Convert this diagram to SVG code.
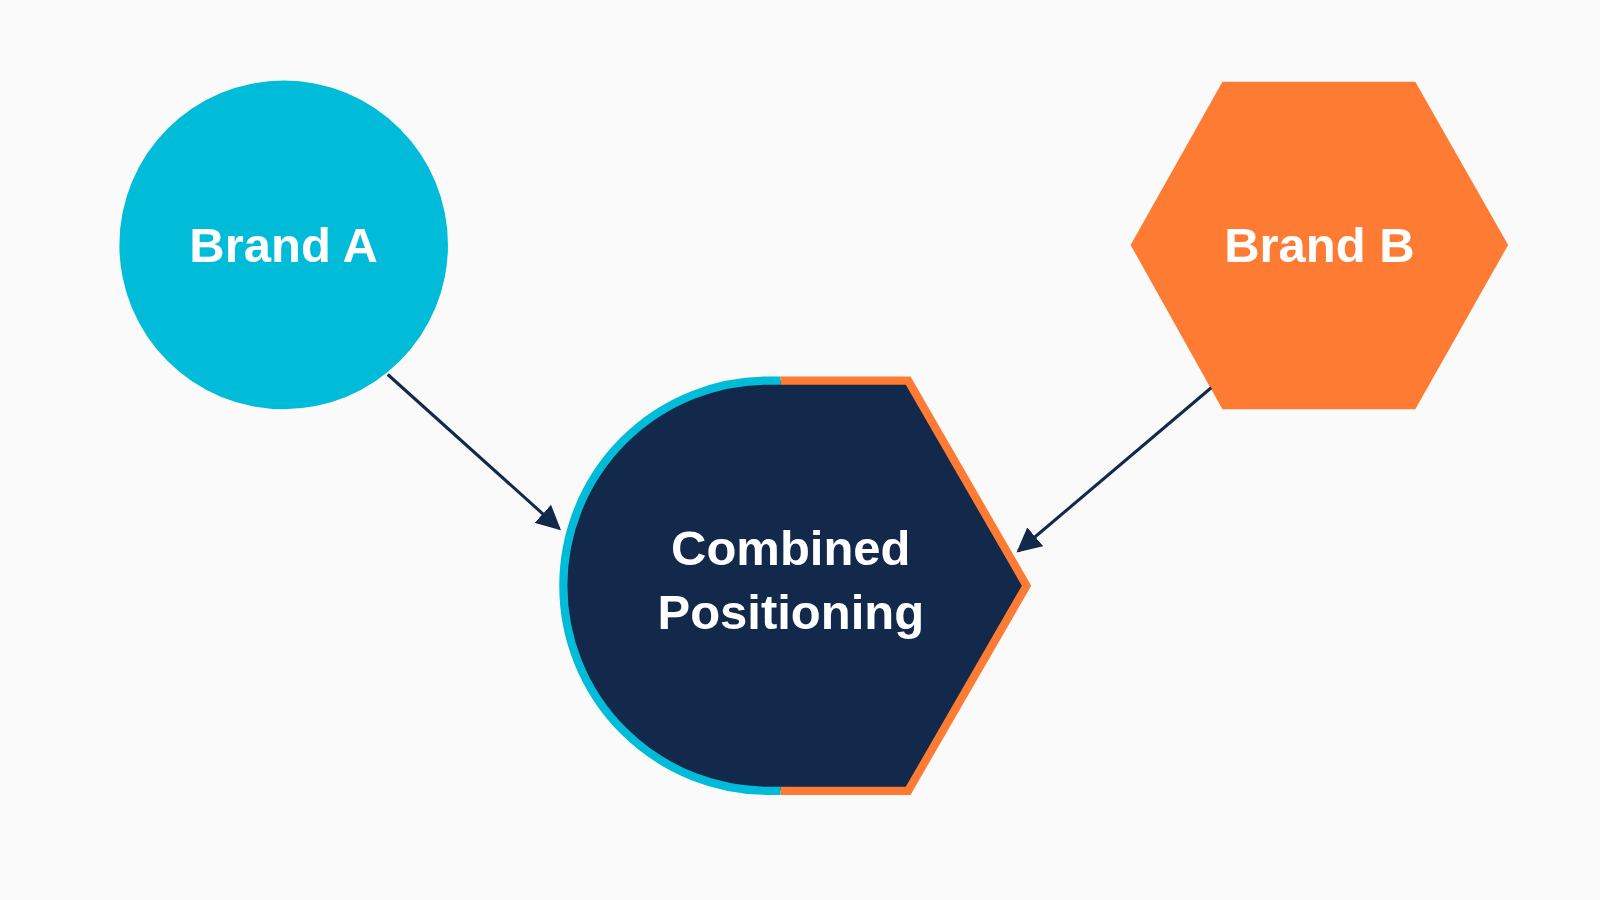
<svg xmlns="http://www.w3.org/2000/svg" width="1600" height="900" viewBox="0 0 1600 900">
<style>
.t{font-family:"Liberation Sans",Arial,sans-serif;font-weight:bold;font-size:48px;fill:#fff;text-anchor:middle;dominant-baseline:central}
</style>
<defs>
<marker id="ah2" viewBox="0 0 10 10" refX="9" refY="5" markerWidth="24" markerHeight="24" markerUnits="userSpaceOnUse" orient="auto"><path d="M0,0L10,5L0,10z" fill="#13294b"/></marker></defs>
<rect width="1600" height="900" fill="#fafafa"/>
<g transform="scale(1.0204)">
<g id="brandA"><circle cx="278" cy="240" r="161" fill="#00bcd8"/><text class="t" x="278" y="240">Brand A</text></g>
<g id="brandB"><polygon points="1198,80 1387,80 1478,240 1387,401 1198,401 1108,240" fill="#fd7b32"/><text class="t" x="1293" y="240">Brand B</text></g>
<g id="combined">
<path d="M765,373 L890,373 L1006,574 L890,775 L765,775 L753,775 A201,201 0 0 1 753,373 Z" fill="#13294b"/>
<path d="M765,373 L753,373 A201,201 0 0 0 753,775 L765,775" fill="none" stroke="#00bcd8" stroke-width="8"/>
<path d="M765,373 L890,373 L1006,574 L890,775 L765,775" fill="none" stroke="#fd7b32" stroke-width="8"/>
<text class="t" x="775" y="537">Combined</text><text class="t" x="775" y="600">Positioning</text>
</g>
<g id="connectors">
<path d="M380,367 L548,518" stroke="#13294b" stroke-width="3" fill="none" marker-end="url(#ah2)"/>
<path d="M1187,380 L998,540" stroke="#13294b" stroke-width="3" fill="none" marker-end="url(#ah2)"/>
</g>
</g>
</svg>
